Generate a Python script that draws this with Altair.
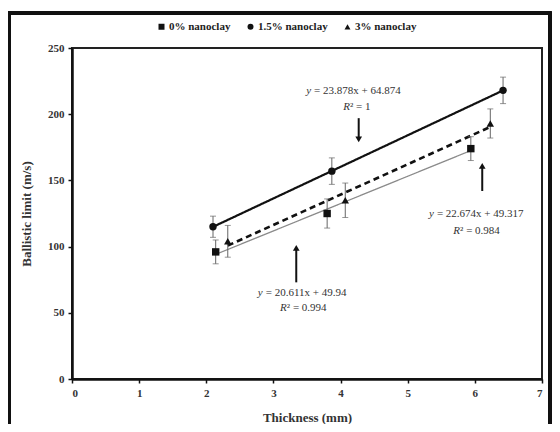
import altair as alt
import pandas as pd

# ---- data ----
series_names = ["0% nanoclay", "1.5% nanoclay", "3% nanoclay"]
x_0 = [2.14, 3.80, 5.94]
y_0 = [96, 125, 174]
e_0 = [9, 11, 9]
x_15 = [2.10, 3.87, 6.42]
y_15 = [115, 157, 218]
e_15 = [8, 10, 10]
x_3 = [2.32, 4.07, 6.23]
y_3 = [104, 135, 193]
e_3 = [12, 13, 11]

# annotation: italic variable + the rest of the text, split at the anchor
ann_var = ["y", "R", "y", "R", "y", "R"]
ann_rest = ["= 23.878x + 64.874", "² = 1",
            "= 22.674x + 49.317", "² = 0.984",
            "= 20.611x + 49.94", "² = 0.994"]
ann_gap = [3, 0, 3, 0, 3, 0]
ann_x = [3.56, 4.14, 5.39, 5.78, 2.84, 3.20]
ann_y = [217.7, 205.7, 124.6, 112.0, 65.0, 53.3]

arrow_x = [4.27, 6.11, 3.34]
arrow_tail = [197, 142, 73]
arrow_tip = [181, 161, 99]
arrow_dir = ["triangle-down", "triangle-up", "triangle-up"]

x_ticks = [0, 1, 2, 3, 4, 5, 6, 7]
y_ticks = [0, 50, 100, 150, 200, 250]

rows = []
for name, xs, ys, es in zip(series_names, [x_0, x_15, x_3], [y_0, y_15, y_3], [e_0, e_15, e_3]):
    for a, b, e in zip(xs, ys, es):
        rows.append({"series": name, "x": a, "y": b, "lo": b - e, "hi": b + e})
df = pd.DataFrame(rows)
ann = pd.DataFrame({"v": ann_var, "t": ann_rest, "x": ann_x, "y": ann_y, "g": ann_gap})
arr = pd.DataFrame({"x": arrow_x, "tail": arrow_tail, "tip": arrow_tip, "dir": arrow_dir})

FONT = "Liberation Serif"
xs = alt.Scale(domain=[0, 7], nice=False, zero=False)
ys = alt.Scale(domain=[0, 250], nice=False)
X = alt.X("x:Q", scale=xs, axis=alt.Axis(values=x_ticks, title="Thickness (mm)", format="d"))
Y = alt.Y("y:Q", scale=ys, axis=alt.Axis(values=y_ticks, title="Ballistic limit (m/s)"))

base = alt.Chart(df)

def trend(name, color, width, dash):
    return base.transform_filter(alt.datum.series == name).transform_regression(
        "x", "y").mark_line(color=color, strokeWidth=width, strokeDash=dash).encode(
        x=alt.X("x:Q", scale=xs), y=alt.Y("y:Q", scale=ys))

l0 = trend("0% nanoclay", "#8a8a8a", 1.3, [1, 0])
l15 = trend("1.5% nanoclay", "#111111", 2.2, [1, 0])
l3 = trend("3% nanoclay", "#111111", 2.6, [6, 4])

err = base.mark_rule(color="#666", strokeWidth=1).encode(
    x=alt.X("x:Q", scale=xs), y=alt.Y("lo:Q", scale=ys), y2="hi:Q")
cap_lo = base.mark_tick(color="#666", thickness=1, size=6, orient="horizontal").encode(
    x=alt.X("x:Q", scale=xs), y=alt.Y("lo:Q", scale=ys))
cap_hi = base.mark_tick(color="#666", thickness=1, size=6, orient="horizontal").encode(
    x=alt.X("x:Q", scale=xs), y=alt.Y("hi:Q", scale=ys))

pts = base.mark_point(filled=True, color="#111", opacity=1, size=55).encode(
    x=X, y=Y,
    shape=alt.Shape("series:N",
                    scale=alt.Scale(domain=series_names, range=["square", "circle", "triangle-up"]),
                    legend=alt.Legend(title=None, orient="none", direction="horizontal",
                                      legendX=84, legendY=-27, symbolSize=36,
                                      symbolFillColor="#111", symbolStrokeColor="#111",
                                      labelFont=FONT, labelFontWeight="bold", labelFontSize=11,
                                      labelColor="#222", columnPadding=13, labelOffset=2)))

t_var = alt.Chart(ann).mark_text(font=FONT, fontSize=11, fontStyle="italic", color="#333",
                                 align="right").encode(
    x=alt.X("x:Q", scale=xs), y=alt.Y("y:Q", scale=ys), text="v:N")
t_rest = alt.Chart(ann).transform_filter(alt.datum.g > 0).mark_text(
    font=FONT, fontSize=11, color="#333", align="left", dx=3).encode(
    x=alt.X("x:Q", scale=xs), y=alt.Y("y:Q", scale=ys), text="t:N")
t_rest_r = alt.Chart(ann).transform_filter(alt.datum.g == 0).mark_text(
    font=FONT, fontSize=11, color="#333", align="left", dx=0).encode(
    x=alt.X("x:Q", scale=xs), y=alt.Y("y:Q", scale=ys), text="t:N")

arr_line = alt.Chart(arr).mark_rule(color="#111", strokeWidth=2).encode(
    x=alt.X("x:Q", scale=xs), y=alt.Y("tail:Q", scale=ys), y2="tip:Q")
arr_head = alt.Chart(arr).mark_point(filled=True, color="#111", opacity=1, size=45).encode(
    x=alt.X("x:Q", scale=xs), y=alt.Y("tip:Q", scale=ys),
    shape=alt.Shape("dir:N", scale=None, legend=None))

frame_left = alt.Chart(df).mark_rule(color="#111", strokeWidth=3).encode(
    x=alt.value(-62.5), y=alt.value(-35), y2=alt.value(376))
frame_right = alt.Chart(df).mark_rule(color="#111", strokeWidth=3).encode(
    x=alt.value(478), y=alt.value(-35), y2=alt.value(376))
frame_top = alt.Chart(df).mark_rule(color="#111", strokeWidth=3).encode(
    x=alt.value(-64), x2=alt.value(479.5), y=alt.value(-35))

chart = alt.layer(frame_left, frame_right, frame_top, l0, l15, l3, err, cap_lo, cap_hi, pts,
                  arr_line, arr_head, t_var, t_rest, t_rest_r).resolve_scale(
    shape="independent").properties(
    width=470, height=331,
    autosize=alt.AutoSizeParams(type="none"),
    padding={"left": 64, "top": 40, "right": 10, "bottom": 45},
).configure_view(stroke="#222", strokeWidth=2).configure_axis(
    grid=False, domainColor="#111", domainWidth=2.5, tickColor="#111", tickWidth=1.5,
    tickSize=4, labelFont=FONT, labelFontWeight="bold", labelFontSize=11, labelColor="#333",
    titleFont=FONT, titleFontWeight="bold", titleFontSize=13, titleColor="#333",
    labelPadding=4).configure_axisY(titlePadding=14).configure_axisX(titlePadding=13)

chart.save("out.html", embed_options={"renderer": "svg", "actions": False})
